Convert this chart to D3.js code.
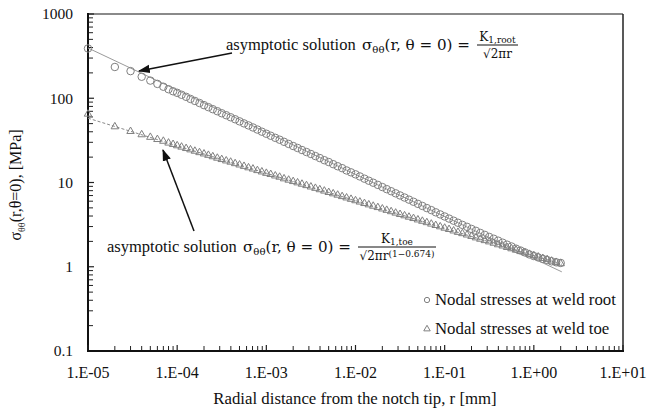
<!DOCTYPE html>
<html>
<head>
<meta charset="utf-8">
<script src="https://cdn.jsdelivr.net/npm/d3@7"></script>
<style>
  body { margin: 0; background: #fff; }
  svg text { font-family: "Liberation Serif", "Times New Roman", serif; fill: #111; }
  svg text.math { font-family: "DejaVu Serif", serif; }
</style>
</head>
<body>
<div id="main"></div>
<script>
// radial distance r [mm] of the nodes (shared by both series)
var radius = [1e-5,2e-5,3e-5,4e-5,5e-5,6e-5,7e-5,8e-5,9e-5,
  1.00e-4,1.12e-4,1.26e-4,1.41e-4,1.58e-4,1.78e-4,2.00e-4,2.24e-4,2.51e-4,2.82e-4,3.16e-4,3.55e-4,3.98e-4,4.47e-4,5.01e-4,5.62e-4,6.31e-4,7.08e-4,7.94e-4,8.91e-4,
  1.00e-3,1.12e-3,1.26e-3,1.41e-3,1.58e-3,1.78e-3,2.00e-3,2.24e-3,2.51e-3,2.82e-3,3.16e-3,3.55e-3,3.98e-3,4.47e-3,5.01e-3,5.62e-3,6.31e-3,7.08e-3,7.94e-3,8.91e-3,
  1.00e-2,1.12e-2,1.26e-2,1.41e-2,1.58e-2,1.78e-2,2.00e-2,2.24e-2,2.51e-2,2.82e-2,3.16e-2,3.55e-2,3.98e-2,4.47e-2,5.01e-2,5.62e-2,6.31e-2,7.08e-2,7.94e-2,8.91e-2,
  1.00e-1,1.12e-1,1.26e-1,1.41e-1,1.58e-1,1.78e-1,2.00e-1,2.24e-1,2.51e-1,2.82e-1,3.16e-1,3.55e-1,3.98e-1,4.47e-1,5.01e-1,5.62e-1,6.31e-1,7.08e-1,7.94e-1,8.91e-1,
  1.00,1.12,1.26,1.41,1.58,1.78,2.00];

// nodal stresses at weld root [MPa]
var rootStress = [390,235,210,180,162,148,137,128,121,
  116,110,104,98.1,92.9,87.8,82.8,78.4,74.2,70.2,66.4,62.9,59.5,56.3,53.2,50.3,47.6,45.0,42.5,40.1,
  37.9,35.9,33.9,32.2,30.4,28.7,27.1,25.7,24.3,23.0,21.8,20.6,19.5,18.4,17.5,16.5,15.6,14.8,13.9,13.2,
  12.5,11.8,11.1,10.5,9.94,9.37,8.83,8.34,7.88,7.44,7.02,6.63,6.26,5.91,5.58,5.27,4.97,4.70,4.43,4.18,
  3.95,3.73,3.52,3.33,3.14,2.98,2.81,2.67,2.52,2.39,2.26,2.15,2.04,1.93,1.83,1.74,1.64,1.56,1.48,1.40,
  1.34,1.29,1.24,1.20,1.16,1.13,1.11];

// nodal stresses at weld toe [MPa]
var toeStress = [65,46,40.5,37,34.5,32.5,31,29.5,28.4,
  27.4,26.4,25.4,24.5,23.6,22.7,21.9,21.1,20.3,19.5,18.8,18.1,17.5,16.8,16.2,15.6,15.0,14.5,13.9,13.4,
  12.9,12.5,12.0,11.6,11.1,10.7,10.3,9.94,9.58,9.22,8.88,8.56,8.24,7.94,7.64,7.37,7.10,6.83,6.58,6.34,
  6.10,5.88,5.65,5.45,5.25,5.06,4.87,4.69,4.52,4.35,4.19,4.04,3.89,3.75,3.61,3.48,3.35,3.22,3.10,2.99,
  2.88,2.78,2.67,2.57,2.48,2.39,2.30,2.21,2.13,2.05,1.98,1.91,1.83,1.77,1.70,1.64,1.58,1.52,1.47,1.41,
  1.36,1.31,1.26,1.22,1.17,1.13,1.09];

// asymptotic solutions (straight lines in log-log), end points
var rootFitR = [1e-5, 2.06], rootFitS = [395, 0.87];
var toeFitR = [1e-5, 2.06], toeFitS = [58, 1.07];

var xTicks = [1e-5,1e-4,1e-3,1e-2,1e-1,1e0,1e1];
var xTickLabels = ["1.E-05","1.E-04","1.E-03","1.E-02","1.E-01","1.E+00","1.E+01"];
var yTicks = [0.1,1,10,100,1000];
var yTickLabels = ["0.1","1","10","100","1000"];

var ctx = {w: 648, h: 410, left: 88, right: 623, top: 14, bottom: 351};

var svg = d3.select("#main").append("svg")
  .attr("width", ctx.w).attr("height", ctx.h);

var x = d3.scaleLog().domain([1e-5, 10]).range([ctx.left, ctx.right]);
var y = d3.scaleLog().domain([0.1, 1000]).range([ctx.bottom, ctx.top]);

// minor ticks (2..9 in each decade)
var minorX = [], minorY = [];
xTicks.slice(0, -1).forEach(function(d){ for (var k = 2; k < 10; k++) minorX.push(d*k); });
yTicks.slice(0, -1).forEach(function(d){ for (var k = 2; k < 10; k++) minorY.push(d*k); });

// frame: top gray, right black
svg.append("line").attr("x1", ctx.left).attr("x2", ctx.right).attr("y1", ctx.top).attr("y2", ctx.top)
  .attr("stroke", "#8a8a8a").attr("stroke-width", 2);
svg.append("line").attr("x1", ctx.right).attr("x2", ctx.right).attr("y1", ctx.top).attr("y2", ctx.bottom)
  .attr("stroke", "#222").attr("stroke-width", 1.5);

// y axis
var yAxis = svg.append("g").attr("transform", "translate(" + ctx.left + ",0)");
yAxis.selectAll(".minor").data(minorY).enter().append("line")
  .attr("x1", 0).attr("x2", 5).attr("y1", function(d){return y(d);}).attr("y2", function(d){return y(d);})
  .attr("stroke", "#222").attr("stroke-width", 1);
yAxis.selectAll(".major").data(yTicks).enter().append("line")
  .attr("x1", 0).attr("x2", 6).attr("y1", function(d){return y(d);}).attr("y2", function(d){return y(d);})
  .attr("stroke", "#222").attr("stroke-width", 1.2);
yAxis.selectAll("text").data(yTicks).enter().append("text")
  .attr("x", -15).attr("y", function(d){return y(d);}).attr("dy", "0.35em")
  .attr("text-anchor", "end").style("font-size", "15.5px")
  .text(function(d, i){return yTickLabels[i];});
yAxis.append("line").attr("x1", 0).attr("x2", 0).attr("y1", ctx.top - 1).attr("y2", ctx.bottom + 1)
  .attr("stroke", "#111").attr("stroke-width", 2);

// x axis
var xAxis = svg.append("g").attr("transform", "translate(0," + ctx.bottom + ")");
xAxis.selectAll(".minor").data(minorX).enter().append("line")
  .attr("y1", 0).attr("y2", -5).attr("x1", function(d){return x(d);}).attr("x2", function(d){return x(d);})
  .attr("stroke", "#222").attr("stroke-width", 1);
xAxis.selectAll(".major").data(xTicks).enter().append("line")
  .attr("y1", 0).attr("y2", -6).attr("x1", function(d){return x(d);}).attr("x2", function(d){return x(d);})
  .attr("stroke", "#222").attr("stroke-width", 1.2);
xAxis.selectAll("text").data(xTicks).enter().append("text")
  .attr("x", function(d){return x(d);}).attr("y", 27)
  .attr("text-anchor", "middle").style("font-size", "16px")
  .text(function(d, i){return xTickLabels[i];});
xAxis.append("line").attr("x1", ctx.left - 1).attr("x2", ctx.right + 1).attr("y1", 0).attr("y2", 0)
  .attr("stroke", "#111").attr("stroke-width", 2);

// axis titles
svg.append("text").attr("x", 355).attr("y", 404).attr("text-anchor", "middle")
  .style("font-size", "16.8px").text("Radial distance from the notch tip, r [mm]");
var yt = svg.append("text").attr("transform", "translate(21,185) rotate(-90)")
  .attr("text-anchor", "middle").style("font-size", "16px");
yt.append("tspan").text("σ");
yt.append("tspan").attr("dy", 4).style("font-size", "10px").text("θθ");
yt.append("tspan").attr("dy", -4).text("(r,θ=0), [MPa]");

// asymptotic lines
var line = d3.line().x(function(d){return x(d[0]);}).y(function(d){return y(d[1]);});
svg.append("path").datum(d3.zip(rootFitR, rootFitS)).attr("d", line)
  .attr("fill", "none").attr("stroke", "#9a9a9a").attr("stroke-width", 1);
svg.append("path").datum(d3.zip(toeFitR, toeFitS)).attr("d", line)
  .attr("fill", "none").attr("stroke", "#8a8a8a").attr("stroke-width", 1).attr("stroke-dasharray", "3,2");

// data markers
var circleSym = d3.symbol().type(d3.symbolCircle).size(44);
var triSym = d3.symbol().type(d3.symbolTriangle).size(24);
svg.append("g").selectAll("path").data(d3.zip(radius, rootStress)).enter().append("path")
  .attr("d", circleSym)
  .attr("transform", function(d){return "translate(" + x(d[0]) + "," + y(d[1]) + ")";})
  .attr("fill", "none").attr("stroke", "#808080").attr("stroke-width", 1);
svg.append("g").selectAll("path").data(d3.zip(radius, toeStress)).enter().append("path")
  .attr("d", triSym)
  .attr("transform", function(d){return "translate(" + x(d[0]) + "," + y(d[1]) + ")";})
  .attr("fill", "none").attr("stroke", "#808080").attr("stroke-width", 1);

// arrows
svg.append("defs").append("marker").attr("id", "ah")
  .attr("viewBox", "0 0 10 10").attr("refX", 9).attr("refY", 5)
  .attr("markerWidth", 8).attr("markerHeight", 8).attr("orient", "auto")
  .append("path").attr("d", "M0,1.5 L10,5 L0,8.5 Z").attr("fill", "#111");
svg.append("line").attr("x1", 232).attr("y1", 53).attr("x2", 139).attr("y2", 71)
  .attr("stroke", "#111").attr("stroke-width", 1.5).attr("marker-end", "url(#ah)");
svg.append("line").attr("x1", 194).attr("y1", 231).attr("x2", 163).attr("y2", 150)
  .attr("stroke", "#111").attr("stroke-width", 1.5).attr("marker-end", "url(#ah)");

// annotation text with fraction
function annot(tx, ty, num, denom, fx, fw, extra) {
  var t = svg.append("text").attr("x", tx).attr("y", ty).style("font-size", "16.5px");
  t.append("tspan").text("asymptotic solution");
  var m = svg.append("text").attr("class", "math").attr("x", tx + 136).attr("y", ty)
    .attr("textLength", 108).attr("lengthAdjust", "spacingAndGlyphs").style("font-size", "15px");
  m.append("tspan").text("σ");
  m.append("tspan").attr("dy", 3).style("font-size", "10px").text("θθ");
  m.append("tspan").attr("dy", -3).text("(r, θ = 0) =");
  var n = svg.append("text").attr("class", "math").attr("x", fx + fw/2).attr("y", ty - 9)
    .attr("text-anchor", "middle").style("font-size", "12px");
  n.append("tspan").text("K");
  n.append("tspan").attr("dy", 2).style("font-size", "9px").text(num);
  svg.append("line").attr("x1", fx).attr("x2", fx + fw).attr("y1", ty - 5).attr("y2", ty - 5)
    .attr("stroke", "#111").attr("stroke-width", 1);
  var d = svg.append("text").attr("class", "math").attr("x", fx + fw/2).attr("y", ty + 8)
    .attr("text-anchor", "middle").style("font-size", "12px");
  d.append("tspan").text(denom);
  if (extra) d.append("tspan").attr("dy", -3).style("font-size", "9px").text(extra);
}
annot(226, 50, "1,root", "√2πr", 477, 41, null);
annot(107, 252, "1,toe", "√2πr", 358, 78, "(1−0.674)");

// legend
var lg = svg.append("g");
lg.append("path").attr("d", d3.symbol().type(d3.symbolCircle).size(22))
  .attr("transform", "translate(427,300)").attr("fill", "none").attr("stroke", "#808080");
lg.append("text").attr("x", 435).attr("y", 305).style("font-size", "16.8px").text("Nodal stresses at weld root");
lg.append("path").attr("d", d3.symbol().type(d3.symbolTriangle).size(18))
  .attr("transform", "translate(427,329)").attr("fill", "none").attr("stroke", "#808080");
lg.append("text").attr("x", 435).attr("y", 334).style("font-size", "16.8px").text("Nodal stresses at weld toe");
</script>
</body>
</html>
